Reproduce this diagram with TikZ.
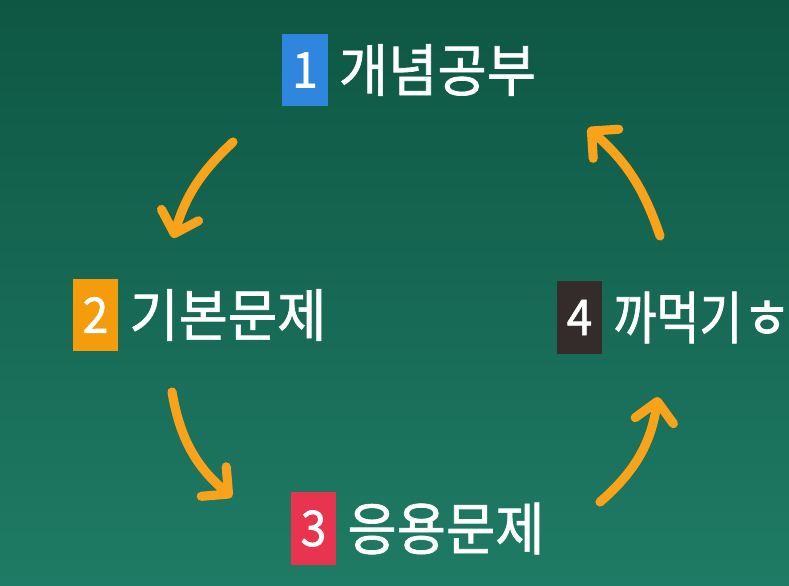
\documentclass[tikz,border=0pt]{standalone}
\usepackage{fontspec}
\newfontfamily\kr[FakeStretch=0.94,FakeBold=1.2]{Noto Sans CJK KR}
\newfontfamily\krnarrow[FakeStretch=0.82,FakeBold=1.2]{Noto Sans CJK KR}
\usetikzlibrary{arrows.meta,positioning}
\definecolor{boardtop}{HTML}{0E5743}
\definecolor{boardmid}{HTML}{22806A}
\definecolor{boardbot}{HTML}{1F7B65}
\definecolor{chalkorange}{HTML}{F8A31A}
\definecolor{stepblue}{HTML}{2F86DE}
\definecolor{steporange}{HTML}{F59C0C}
\definecolor{stepred}{HTML}{E8344F}
\definecolor{stepdark}{HTML}{332C2A}
\tikzset{
  numbox/.style   = {minimum width=4.5mm, minimum height=7.2mm, inner sep=0pt,
                     text=white, font=\kr\fontsize{14}{15}\selectfont},
  steptext/.style = {inner sep=0pt, text=white,
                     font=\kr\fontsize{16.2}{18}\selectfont},
  cyclearrow/.style = {-{Straight Barb[round,length=5.5pt,width=11pt]},
                     draw=chalkorange, line width=2.6pt, line cap=round},
}

\begin{document}
\begin{tikzpicture}[x=0.01cm,y=0.01cm]
  \shade[top color=boardtop, middle color=boardmid, bottom color=boardbot]
    (0,0) rectangle (789,585);
  \useasboundingbox (0,0) rectangle (789,585);

  % steps
  \node[numbox, fill=stepblue] (b1) at (305,515) {1};
  \node[steptext, right=1mm of b1] (t1) {개념공부};
  \node[numbox, fill=steporange] (b2) at (95.5,270) {2};
  \node[steptext, right=1mm of b2] (t2) {기본문제};
  \node[numbox, fill=stepred] (b3) at (313.5,56.5) {3};
  \node[steptext, right=1mm of b3] (t3) {응용문제};
  \node[numbox, fill=stepdark] (b4) at (579.5,267.5) {4};
  \node[steptext, right=1mm of b4] (t4) {\krnarrow 까먹기{\kr\fontsize{16}{17}\selectfont ㅎ}};

  % arrows round the cycle
  \coordinate (a1s) at (233,443);
  \coordinate (a1e) at (173,347);
  \coordinate (a2s) at (172,193);
  \coordinate (a2e) at (232,88);
  \coordinate (a3s) at (600,83);
  \coordinate (a3e) at (658,188);
  \coordinate (a4s) at (660,349);
  \coordinate (a4e) at (588,457);
  \draw[cyclearrow] (a1s) to[bend right=15] (a1e);
  \draw[cyclearrow] (a2s) to[bend right=20] (a2e);
  \draw[cyclearrow] (a3s) to[bend right=20] (a3e);
  \draw[cyclearrow] (a4s) to[bend right=15] (a4e);
\end{tikzpicture}
\end{document}
